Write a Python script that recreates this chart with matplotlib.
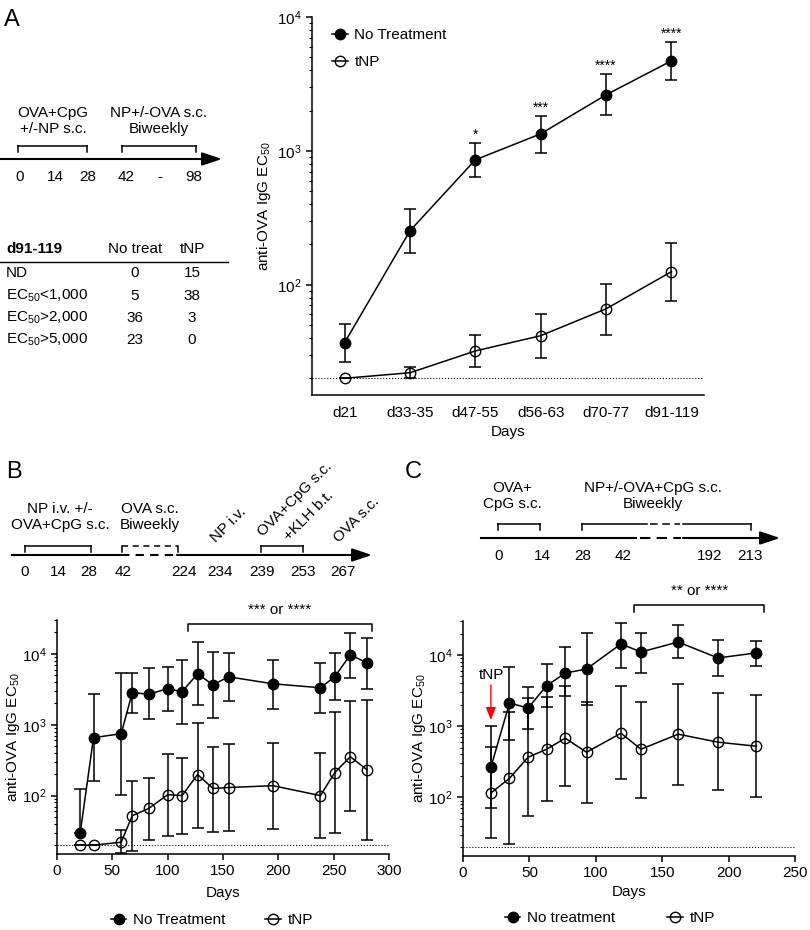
import matplotlib.pyplot as plt
from matplotlib import rcParams
from matplotlib.lines import Line2D

config = {
    "font.family": ['Liberation Sans', 'DejaVu Sans'],
    "font.size": 11,
    "mathtext.fontset": 'custom',
    "mathtext.rm": 'Liberation Sans',
    "mathtext.it": 'Liberation Sans:italic',
    "mathtext.bf": 'Liberation Sans:bold',
    "mathtext.default": 'regular',
    "axes.linewidth": 1.1,
}
rcParams.update(config)

# ---- panel A data ----
a_days = ['d21', 'd33-35', 'd47-55', 'd56-63', 'd70-77', 'd91-119']
a_nt = [37, 253, 857, 1340, 2620, 4700]
a_nt_hi = [51, 369, 1147, 1823, 3760, 6500]
a_nt_lo = [26.6, 173, 640, 966, 1857, 3390]
a_tnp = [20, 22, 32, 41.6, 66, 125]
a_tnp_hi = [20, 24.4, 42.4, 60.8, 101.6, 206]
a_tnp_lo = [20, 20, 24.4, 28.5, 42.4, 76]
a_stars = ['', '', '*', '***', '****', '****']

table_head = ['d91-119', 'No treat', 'tNP']
table_rows = ['ND', 'EC$_{50}$<1,000', 'EC$_{50}$>2,000', 'EC$_{50}$>5,000']
table_nt = [0, 5, 36, 23]
table_tnp = [15, 38, 3, 0]

# ---- panel B data ----
b_days = [21, 33, 58, 68, 83, 100, 113, 127, 141, 155, 195, 238, 251, 265, 280]
b_nt = [30, 656, 747, 2830, 2700, 3215, 2920, 5220, 3655, 4740, 3780, 3320, 4740, 9690, 7470]
b_nt_hi = [125, 2700, 5400, 5400, 6350, 6560, 8230, 14800, 10700, 10300, 8200, 7460, 10300, 19800, 16800]
b_nt_lo = [30, 163, 103, 1476, 1217, 1575, 1033, 1914, 1256, 2180, 1680, 1476, 2250, 4600, 3220]
b_tnp = [20, 20, 22, 52, 66, 103, 100, 198, 126, 130, 138, 100, 211, 354, 232]
b_tnp_hi = [20, 20, 33, 163, 180, 391, 343, 1067, 490, 540, 557, 404, 1525, 2180, 2250]
b_tnp_lo = [20, 20, 15.5, 16.8, 24, 27, 29, 35, 31, 32, 34, 25.6, 30, 60, 24]

# ---- panel C data ----
c_days = [21, 35, 49, 63, 77, 93, 119, 134, 162, 192, 221]
c_nt = [265, 2110, 1800, 3700, 5570, 6350, 14300, 11000, 15200, 9080, 10700]
c_nt_hi = [1000, 6780, 3540, 7470, 13000, 20400, 28200, 20400, 26500, 16300, 15500]
c_nt_lo = [70, 635, 908, 1850, 2650, 2000, 6560, 5570, 9080, 5060, 7000]
c_tnp = [115, 185, 366, 474, 678, 430, 796, 474, 771, 596, 522]
c_tnp_hi = [505, 1575, 2480, 2550, 3660, 2200, 3660, 2180, 3910, 2900, 2700]
c_tnp_lo = [26.5, 21.8, 54, 88, 143, 82, 180, 97, 148, 125, 100]

fig = plt.figure(figsize=(8.1, 9.3), dpi=100)

# overlay in pixel coords for schematics / labels
ov = fig.add_axes([0, 0, 1, 1])
ov.set_xlim(0, 810)
ov.set_ylim(930, 0)
ov.axis('off')


def bracket(x0, x1, ytop, ybot, ls='-'):
    ov.plot([x0, x0], [ybot, ytop], color='k', lw=1.1)
    ov.plot([x1, x1], [ybot, ytop], color='k', lw=1.1)
    ov.plot([x0, x1], [ytop, ytop], color='k', lw=1.1, ls=ls)


def arrow(x0, x1, y):
    ov.annotate('', xy=(x1, y), xytext=(x0, y),
                arrowprops=dict(arrowstyle='-|>,head_length=0.6,head_width=0.2', lw=1.5,
                                color='k', mutation_scale=20, shrinkA=0, shrinkB=0))


def style_ax(ax):
    ax.spines['top'].set_visible(False)
    ax.spines['right'].set_visible(False)
    ax.tick_params(which='major', direction='out', length=4, width=1.1, labelsize=11)
    ax.tick_params(which='minor', direction='out', length=2, width=0.8)


def errs(v, lo, hi):
    return [[a - b for a, b in zip(v, lo)], [b - a for a, b in zip(v, hi)]]


# panel letters
ov.text(12, 20, 'A', fontsize=17, ha='center', va='center')
ov.text(14, 472, 'B', fontsize=17, ha='center', va='center')
ov.text(413, 472, 'C', fontsize=17, ha='center', va='center')

# ---- A schematic ----
arrow(0, 222, 159)
bracket(18, 87, 146, 152)
bracket(122, 196, 146, 152)
for xp, s in zip([20, 55, 88, 126, 160, 194], ['0', '14', '28', '42', '-', '98']):
    ov.text(xp, 177, s, ha='center', va='center')
ov.text(53, 121, 'OVA+CpG\n+/-NP s.c.', ha='center', va='center', linespacing=1.15)
ov.text(159, 121, 'NP+/-OVA s.c.\nBiweekly', ha='center', va='center', linespacing=1.15)

# table
ov.text(6, 249, table_head[0], fontweight='bold', ha='left', va='center')
ov.text(135, 249, table_head[1], ha='center', va='center')
ov.text(192, 249, table_head[2], ha='center', va='center')
ov.plot([0, 228], [262, 262], color='k', lw=1.0)
for yp, lab, n1, n2 in zip([273, 296, 318, 340], table_rows, table_nt, table_tnp):
    ov.text(6, yp, lab, ha='left', va='center')
    ov.text(135, yp, str(n1), ha='center', va='center')
    ov.text(192, yp, str(n2), ha='center', va='center')

# ---- B schematic ----
ov.plot([12, 120], [555, 555], color='k', lw=1.5)
ov.plot([121, 177], [555, 555], color='k', lw=1.5, ls=(0, (4, 3)))
arrow(177, 372, 555)
bracket(25, 91, 546, 552)
bracket(122, 178, 546, 552, ls=(0, (4, 3)))
bracket(261, 303, 546, 552)
for xp, s in zip([25, 58, 89, 123, 184, 220, 262, 303, 343],
                 ['0', '14', '28', '42', '224', '234', '239', '253', '267']):
    ov.text(xp, 572, s, ha='center', va='center')
ov.text(60, 517, 'NP i.v. +/-\nOVA+CpG s.c.', ha='center', va='center', linespacing=1.15)
ov.text(150, 517, 'OVA s.c.\nBiweekly', ha='center', va='center', linespacing=1.15)
ov.text(216, 543, 'NP i.v.', rotation=45, rotation_mode='anchor', ha='left', va='baseline')
ov.text(263, 537, 'OVA+CpG s.c.', rotation=45, rotation_mode='anchor', ha='left', va='baseline')
ov.text(289, 541, '+KLH b.t.', rotation=45, rotation_mode='anchor', ha='left', va='baseline')
ov.text(339, 543, 'OVA s.c.', rotation=45, rotation_mode='anchor', ha='left', va='baseline')

# ---- C schematic ----
ov.plot([481, 636], [538, 538], color='k', lw=1.5)
ov.plot([640, 681], [538, 538], color='k', lw=1.5, ls=(0, (5, 3)))
arrow(683, 780, 538)
bracket(498, 540, 524, 530)
ov.plot([582, 582], [530, 524], color='k', lw=1.1)
ov.plot([751, 751], [530, 524], color='k', lw=1.1)
ov.plot([582, 647], [524, 524], color='k', lw=1.1)
ov.plot([650, 680], [524, 524], color='k', lw=1.1, ls=(0, (5, 3)))
ov.plot([683, 751], [524, 524], color='k', lw=1.1)
for xp, s in zip([499, 542, 583, 623, 710, 750], ['0', '14', '28', '42', '192', '213']):
    ov.text(xp, 556, s, ha='center', va='center')
ov.text(512, 496, 'OVA+\nCpG s.c.', ha='center', va='center', linespacing=1.15)
ov.text(653, 496, 'NP+/-OVA+CpG s.c.\nBiweekly', ha='center', va='center', linespacing=1.15)

eb = dict(color='k', ms=7.5, capsize=4, elinewidth=1.1, capthick=1.1, lw=1.1)
ylab = 'anti-OVA IgG EC$_{50}$'

# ---- panel A plot ----
axA = fig.add_axes([312 / 810, 1 - 395 / 930, 392 / 810, 378 / 930])
xa = list(range(len(a_days)))
axA.axhline(20, color='k', ls=':', lw=0.8)
axA.errorbar(xa, a_tnp, yerr=errs(a_tnp, a_tnp_lo, a_tnp_hi), fmt='o-', mfc='none', **eb)
axA.errorbar(xa, a_nt, yerr=errs(a_nt, a_nt_lo, a_nt_hi), fmt='o-', mfc='k', **eb)
for i, s in enumerate(a_stars):
    if s:
        axA.annotate(s, (i, a_nt_hi[i]), xytext=(0, 1), textcoords='offset points',
                     ha='center', va='bottom', fontsize=10)
axA.set_yscale('log')
axA.set_ylim(15, 10000)
axA.set_xlim(-0.5, 5.5)
axA.set_xticks(xa, a_days)
style_ax(axA)
axA.tick_params(axis='x', length=0, pad=8)
axA.set_ylabel(ylab)
axA.set_xlabel('Days')
axA.yaxis.set_label_coords(-0.1, 0.5)
axA.xaxis.set_label_coords(0.5, -0.08)
h_nt = Line2D([], [], color='k', marker='o', mfc='k', ms=7.5, lw=1.1)
h_tnp = Line2D([], [], color='k', marker='o', mfc='none', ms=7.5, lw=1.1)
axA.legend([h_nt, h_tnp], ['No Treatment', 'tNP'], loc='upper left', bbox_to_anchor=(0.036, 0.987),
           frameon=False, handlelength=1.0, handletextpad=0.45, labelspacing=0.88, borderaxespad=0)

# ---- panel B plot ----
axB = fig.add_axes([57 / 810, 1 - 854 / 930, 332 / 810, 234 / 930])
axB.axhline(20, color='k', ls=':', lw=0.8)
axB.errorbar(b_days, b_tnp, yerr=errs(b_tnp, b_tnp_lo, b_tnp_hi), fmt='o-', mfc='none', **eb)
axB.errorbar(b_days, b_nt, yerr=errs(b_nt, b_nt_lo, b_nt_hi), fmt='o-', mfc='k', **eb)
axB.set_yscale('log')
axB.set_ylim(15, 30000)
axB.set_xlim(0, 300)
axB.set_xticks(range(0, 301, 50))
style_ax(axB)
axB.set_ylabel(ylab)
axB.set_xlabel('Days')
axB.yaxis.set_label_coords(-0.105, 0.5)
axB.xaxis.set_label_coords(0.5, -0.137)
axB.plot([118, 118, 285, 285], [21100, 26500, 26500, 21100], color='k', lw=1.1, clip_on=False)
axB.text(201, 33000, '*** or ****', ha='center', va='bottom', clip_on=False)
fig.legend([h_nt, h_tnp], ['No Treatment', 'tNP'], loc='center left',
           bbox_to_anchor=(105 / 810, 1 - 920 / 930), ncol=2, frameon=False, borderaxespad=0,
           handlelength=1.0, handletextpad=0.45, columnspacing=2.6)

# ---- panel C plot ----
axC = fig.add_axes([463 / 810, 1 - 856 / 930, 332 / 810, 235 / 930])
axC.axhline(20, color='k', ls=':', lw=0.8)
axC.errorbar(c_days, c_tnp, yerr=errs(c_tnp, c_tnp_lo, c_tnp_hi), fmt='o-', mfc='none', **eb)
axC.errorbar(c_days, c_nt, yerr=errs(c_nt, c_nt_lo, c_nt_hi), fmt='o-', mfc='k', **eb)
axC.set_yscale('log')
axC.set_ylim(15, 30000)
axC.set_xlim(0, 250)
axC.set_xticks(range(0, 251, 50))
style_ax(axC)
axC.set_ylabel(ylab)
axC.set_xlabel('Days')
axC.yaxis.set_label_coords(-0.105, 0.5)
axC.xaxis.set_label_coords(0.5, -0.123)
axC.plot([129, 129, 227, 227], [40300, 50600, 50600, 40300], color='k', lw=1.1, clip_on=False)
axC.text(178, 63000, '** or ****', ha='center', va='bottom', clip_on=False)
axC.annotate('', xy=(21, 1220), xytext=(21, 3780),
             arrowprops=dict(arrowstyle='-|>,head_length=0.5,head_width=0.2', color='red',
                             lw=1.0, mutation_scale=15, shrinkA=0, shrinkB=0))
axC.text(21.8, 5220, 'tNP', ha='center', va='center')
fig.legend([h_nt, h_tnp], ['No treatment', 'tNP'], loc='center left',
           bbox_to_anchor=(499 / 810, 1 - 918 / 930), ncol=2, frameon=False, borderaxespad=0,
           handlelength=1.0, handletextpad=0.45, columnspacing=3.4)

plt.savefig('out.png', dpi=100)
